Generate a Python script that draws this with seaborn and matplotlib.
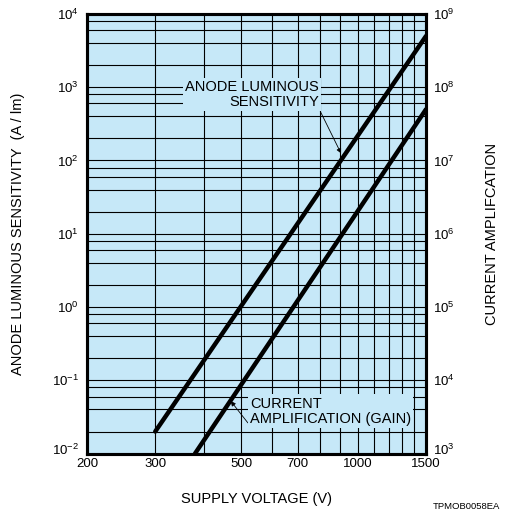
import matplotlib
matplotlib.use("Agg")
import matplotlib.pyplot as plt
import matplotlib.transforms as mtransforms
import seaborn as sns
from matplotlib.ticker import NullLocator

# data
voltage_sens = [300, 1500]
sensitivity = [0.02, 5000]          # A/lm, left axis
voltage_gain = [380, 1500]
gain = [1e3, 5e7]                    # current amplification, right axis

x_grid = [200, 300, 400, 500, 600, 700, 800, 900, 1000, 1100, 1200, 1300, 1400, 1500]
x_labels = [200, 300, 500, 700, 1000, 1500]
left_exp = [-2, -1, 0, 1, 2, 3, 4]
right_exp = [3, 4, 5, 6, 7, 8, 9]
grid_mult = [1, 2, 4, 6, 8]

bg = "#C6E8F8"

sns.set_style("white")
plt.rcParams["font.family"] = ["Liberation Sans", "DejaVu Sans"]
plt.rcParams["mathtext.fontset"] = "custom"
plt.rcParams["mathtext.rm"] = "Liberation Sans"
for k in ["text.color", "axes.labelcolor", "xtick.color", "ytick.color"]:
    plt.rcParams[k] = "black"

fig = plt.figure(figsize=(5.06, 5.16), dpi=100)
ax = fig.add_axes([0.172, 0.121, 0.670, 0.852])
ax.set_facecolor(bg)
ax.set_xscale("log")
ax.set_yscale("log")

sns.lineplot(x=voltage_sens, y=sensitivity, ax=ax, color="black", lw=3.2, zorder=4)

ax.set_xlim(200, 1500)
ax.set_ylim(1e-2, 1e4)

# grid / ticks
ax.set_xticks(x_grid)
ax.set_xticklabels([str(v) if v in x_labels else "" for v in x_grid])
ax.xaxis.set_minor_locator(NullLocator())

y_grid = [m * 10.0 ** e for e in left_exp for m in grid_mult if m * 10.0 ** e <= 1e4]
ax.set_yticks(y_grid)
ax.set_yticklabels(["$\\mathregular{10^{%d}}$" % e if m == 1 else ""
                    for e in left_exp for m in grid_mult if m * 10.0 ** e <= 1e4])
ax.yaxis.set_minor_locator(NullLocator())
ax.grid(True, which="major", color="black", lw=0.8)
ax.tick_params(axis="x", length=0, labelsize=9.5, pad=3.5)
ax.tick_params(axis="y", length=0, labelsize=9.5, pad=6)

ax2 = ax.twinx()
ax2.set_yscale("log")
sns.lineplot(x=voltage_gain, y=gain, ax=ax2, color="black", lw=3.2, zorder=4)
ax2.set_ylim(1e3, 1e9)
ax2.set_yticks([10.0 ** e for e in right_exp])
ax2.set_yticklabels(["$\\mathregular{10^{%d}}$" % e for e in right_exp])
ax2.yaxis.set_minor_locator(NullLocator())
ax2.grid(False)
ax2.tick_params(length=0, labelsize=9.5, pad=5)

# bottom labels of both y axes sit a little above their tick
lift = mtransforms.ScaledTranslation(0, 3.5 / 72, fig.dpi_scale_trans)
for lab in (ax.get_yticklabels()[0], ax2.get_yticklabels()[0]):
    lab.set_transform(lab.get_transform() + lift)

for a in (ax, ax2):
    for s in a.spines.values():
        s.set_linewidth(2.2)
        s.set_color("black")

ax.set_xlabel("SUPPLY VOLTAGE (V)", fontsize=10.5)
ax.xaxis.set_label_coords(0.5, -0.087)
ax.set_ylabel("ANODE LUMINOUS SENSITIVITY  (A / lm)", fontsize=10.5)
ax.yaxis.set_label_coords(-0.183, 0.5)
ax2.set_ylabel("CURRENT AMPLIFCATION", fontsize=10.5)
ax2.yaxis.set_label_coords(1.175, 0.5)

# callouts
ax2.annotate("ANODE LUMINOUS\nSENSITIVITY", xy=(905, 125), xycoords=ax.transData,
             xytext=(795, 1250), textcoords=ax.transData,
             ha="right", va="top", multialignment="right", fontsize=10.5,
             linespacing=1.1, zorder=5,
             bbox=dict(boxstyle="square,pad=0.15", fc=bg, ec="none"),
             arrowprops=dict(arrowstyle="-|>", color="black", lw=0.6,
                             relpos=(1, 0), shrinkA=0, shrinkB=0,
                             mutation_scale=7))

ax2.annotate("CURRENT\nAMPLIFICATION (GAIN)", xy=(470, 5.2e3),
             xytext=(527, 6.0e3),
             ha="left", va="top", multialignment="left", fontsize=10.5,
             linespacing=1.1, zorder=5,
             bbox=dict(boxstyle="square,pad=0.15", fc=bg, ec="none"),
             arrowprops=dict(arrowstyle="-|>", color="black", lw=0.6,
                             relpos=(0, 0), shrinkA=0, shrinkB=0,
                             mutation_scale=7))

fig.text(0.856, 0.009, "TPMOB0058EA", fontsize=6.8, ha="left", va="bottom")

fig.savefig("out.png", dpi=100)
